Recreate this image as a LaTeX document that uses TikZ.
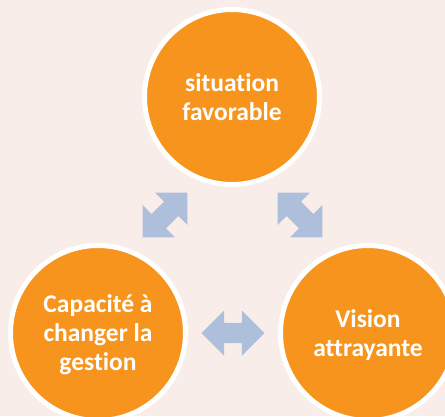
\documentclass[tikz,border=0pt]{standalone}
\usepackage{fontspec}
\setmainfont{Carlito}[Ligatures=NoCommon]
\usepackage{tikz}
\usetikzlibrary{positioning,shapes.arrows,calc}

\definecolor{fondrose}{HTML}{F8EDE9}
\definecolor{orangevif}{HTML}{F7941D}
\definecolor{bleuclair}{HTML}{AEBFDC}

\tikzset{
	rond/.style={circle, draw=white, line width=5pt, fill=orangevif, minimum size=175pt, inner sep=0pt,
		text=white, font=\bfseries\fontsize{25.5}{29}\selectfont, align=center, text depth=-4pt},
	fleche/.style={double arrow, fill=bleuclair, draw=none, minimum height=63pt,
		text height=10pt, text depth=10pt, text width=0pt,
		double arrow head extend=12.5pt, double arrow tip angle=90, inner sep=0pt}
}

\begin{document}
\begin{tikzpicture}[x=1pt,y=-1pt]
\useasboundingbox (0,0) rectangle (445,416);
\fill[fondrose] (0,0) rectangle (445,416);
\clip (0,0) rectangle (445,416);
	% les trois cercles
	\node[rond] (S) at (232,97) {situation\\favorable};
	\node[rond] (C) at (98,333) {Capacité à\\changer la\\gestion};
	\node[rond] (V) at (368,333) {Vision\\attrayante};

	% fleches doubles entre les cercles
	\node[fleche, rotate=45] (SC) at ($(S)!0.5!(C)$) {};
	\node[fleche, rotate=-45] (SV) at ($(S)!0.5!(V)$) {};
	\node[fleche] (CV) at ($(C)!0.5!(V)$) {};
\end{tikzpicture}
\end{document}
